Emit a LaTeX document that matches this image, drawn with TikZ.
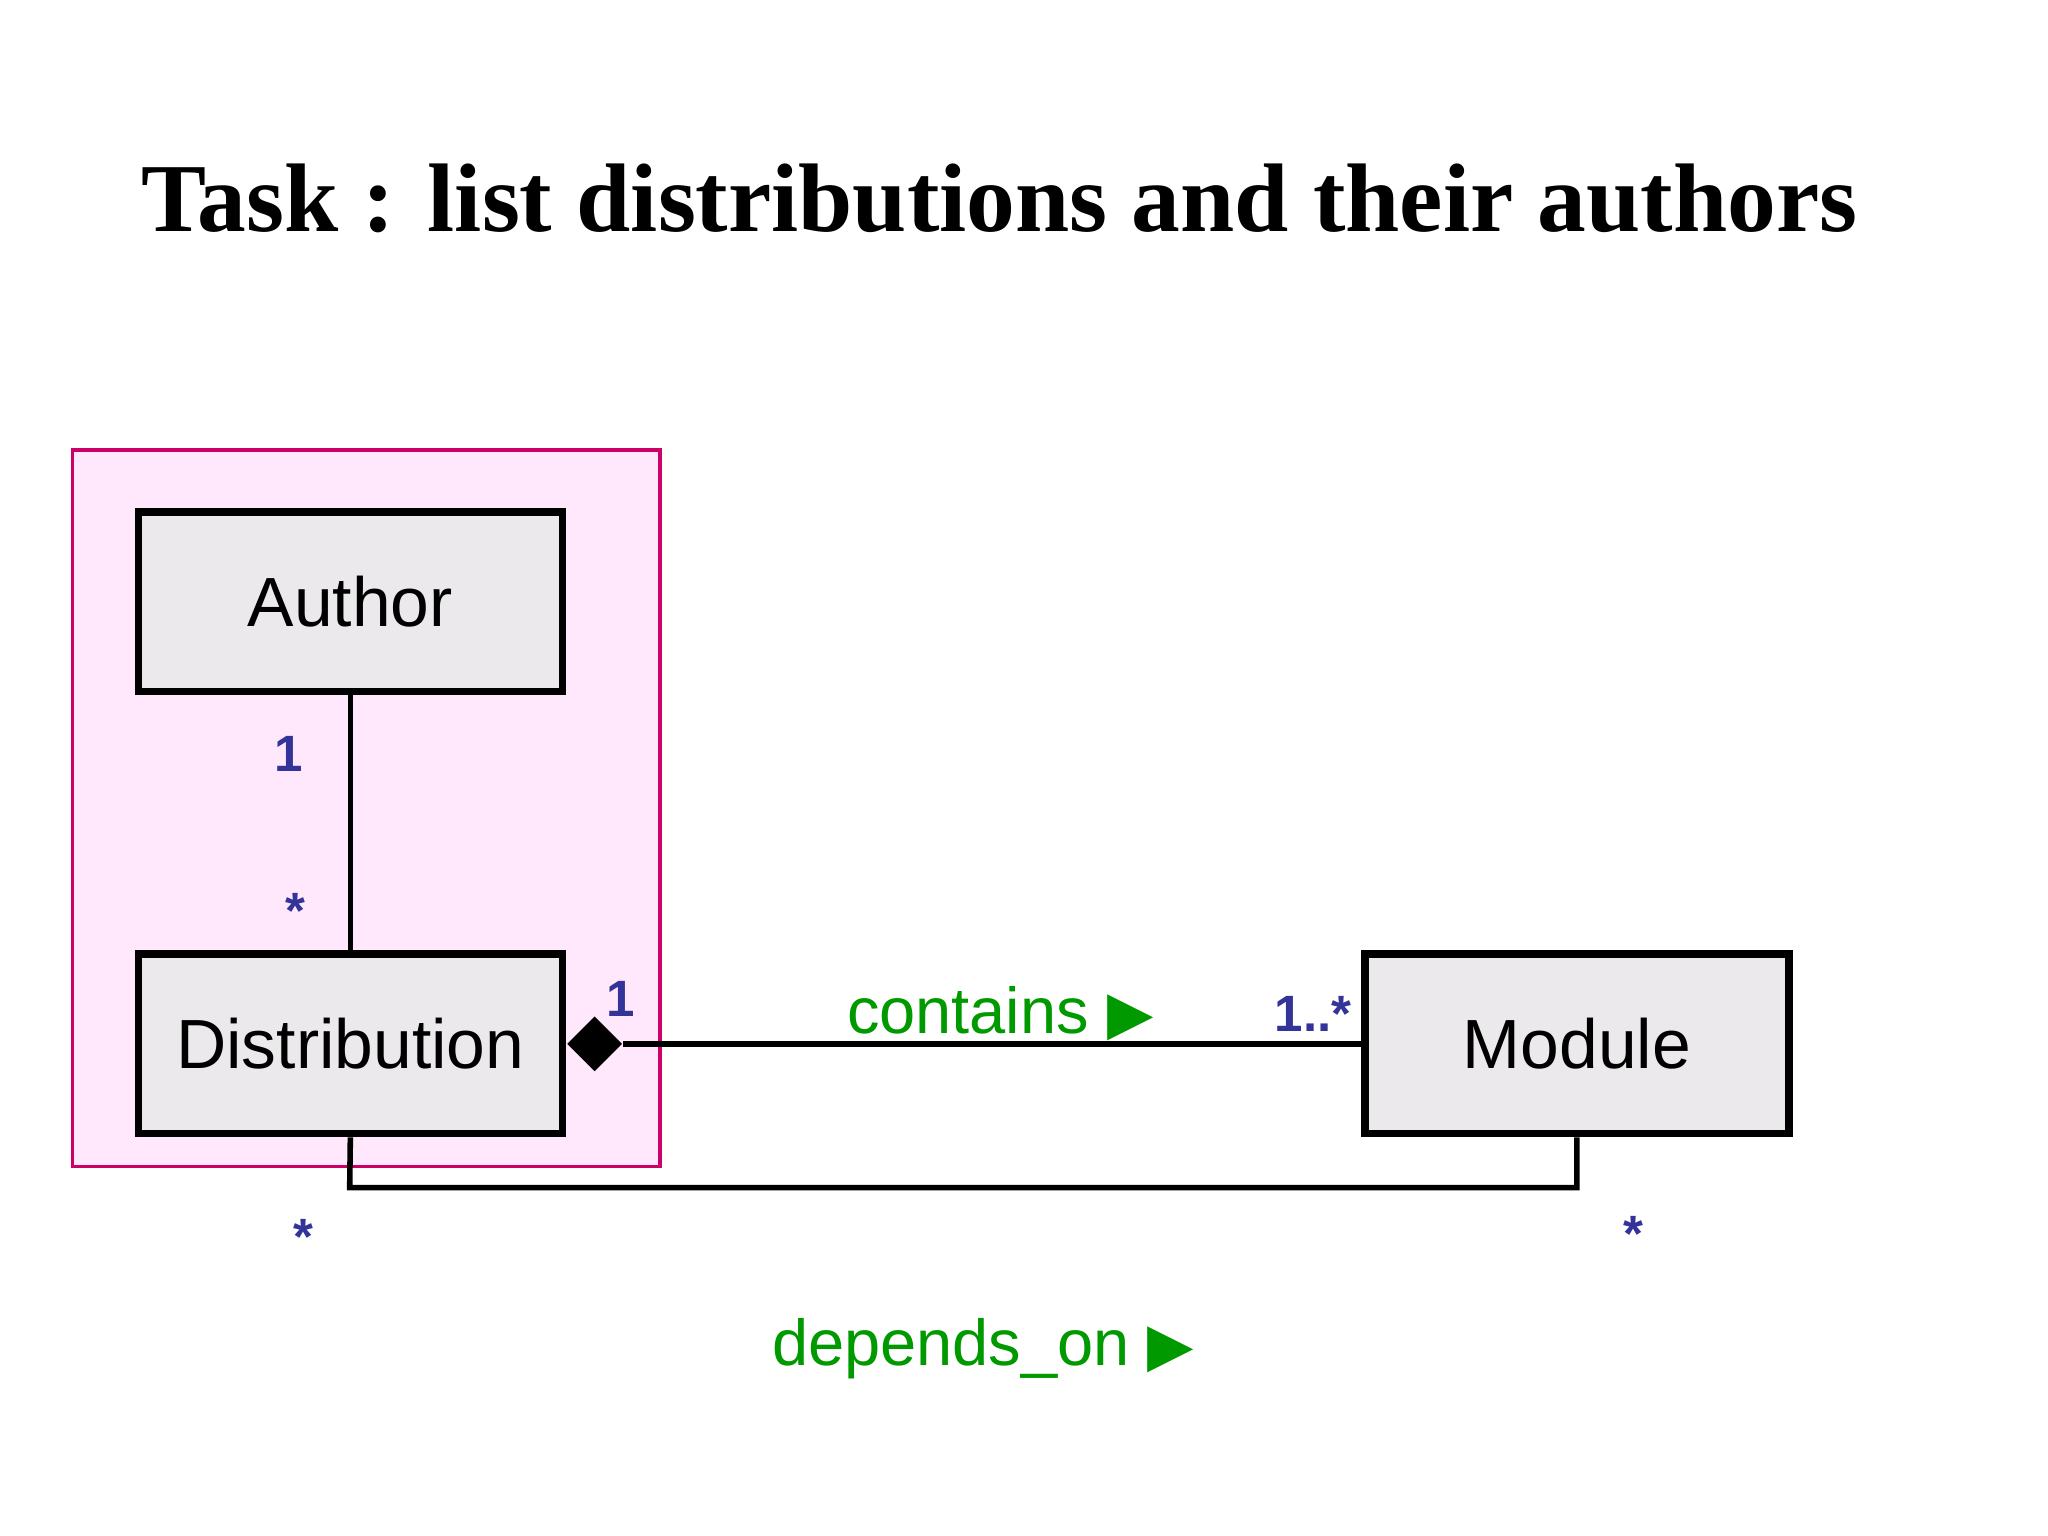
\documentclass[tikz,border=0pt]{standalone}
\usepackage{fontspec}
\setmainfont{Liberation Serif}
\setsansfont{Liberation Sans}
\newfontfamily\dejavu{DejaVu Sans}
\usetikzlibrary{shapes.geometric}
\definecolor{boxfill}{HTML}{EBE9EB}
\definecolor{pinkfill}{HTML}{FFE8FC}
\definecolor{pinkline}{HTML}{CC0066}
\definecolor{mult}{HTML}{333399}
\definecolor{assoc}{HTML}{009900}
\begin{document}
\begin{tikzpicture}[x=0.01cm,y=-0.01cm,
  cls/.style={draw,line width=1.6pt,fill=boxfill,minimum width=3.21cm,minimum height=1.36cm,inner sep=0pt,font=\sffamily\fontsize{15}{18}\selectfont},
  mul/.style={text=mult,font=\sffamily\bfseries\fontsize{11}{13}\selectfont},
  lab/.style={text=assoc,font=\sffamily\fontsize{14}{17}\selectfont},
  ln/.style={line width=1.2pt}]
\useasboundingbox (0,0) rectangle (1552,1164);
\node[anchor=west,font=\bfseries\fontsize{21}{25}\selectfont] (title) at (95,150) {Task : list distributions and their authors};
\draw[pinkline,fill=pinkfill,line width=0.8pt] (55,341) rectangle (500,884);
\node[cls] (author) at (265.5,456) {Author};
\node[cls] (dist) at (265.5,791) {Distribution};
\node[cls] (module) at (1195,791) {Module};
\node[diamond,fill=black,minimum width=0.42cm,minimum height=0.42cm,inner sep=0pt,anchor=west] (dia) at (dist.east) {};
\draw[ln] (author) -- (dist);
\draw[ln] (dia.east) -- (module.west);
\draw[ln] (dist.south) -- (265,900) -| (module.south);
\node[mul] (m1) at (219,571) {1};
\node[mul] (m2) at (224,690) {*};
\node[mul] (m3) at (470,757) {1};
\node[mul] (m4) at (995,768) {1..*};
\node[mul] (m5) at (230,937) {*};
\node[mul] (m6) at (1238,935) {*};
\node[lab] (contains) at (758,768) {contains {\dejavu\fontsize{13}{15}\selectfont ▶}};
\node[lab] (depends) at (745,1022) {depends\_on {\dejavu\fontsize{13}{15}\selectfont ▶}};
\end{tikzpicture}
\end{document}
